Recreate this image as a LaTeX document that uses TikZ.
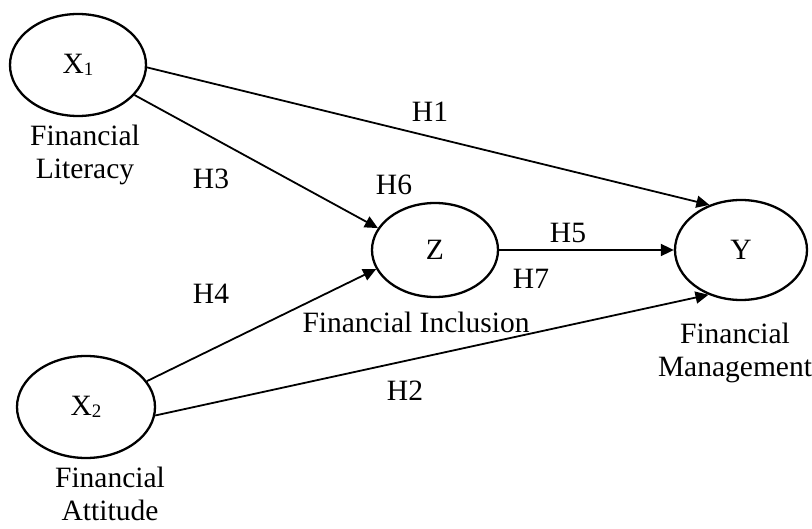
\documentclass[tikz,border=0pt]{standalone}
\usepackage{fontspec}
\setmainfont{Liberation Serif}
\usetikzlibrary{arrows.meta,shapes.geometric}
\newcommand{\smallsub}[1]{\raisebox{-1.5pt}{\fontsize{19}{19}\selectfont #1}}
\tikzset{
	latent/.style={draw, ellipse, line width=2.3pt, inner sep=0pt},
	path/.style={line width=1.8pt, -{Triangle[length=13pt,width=12pt]}},
	lbl/.style={align=center, font=\fontsize{29.5}{33}\selectfont}
}

\begin{document}
\begin{tikzpicture}[x=1pt, y=1pt]
		%%%%% START %%%%%
		\useasboundingbox (0, 0) rectangle (812, 528);
		
		\node[latent, minimum width=136, minimum height=102, lbl] (x1) at (78, 463) {X\smallsub{1}};
		\node[latent, minimum width=138, minimum height=102, lbl] (x2) at (86, 121) {X\smallsub{2}};
		\node[latent, minimum width=126, minimum height=94, lbl] (z) at (435, 278) {Z};
		\node[latent, minimum width=132, minimum height=100, lbl] (y) at (741, 278) {Y};
		
		\node[lbl] (litlbl) at (85, 373) {Financial\\Literacy};
		\node[lbl] (attlbl) at (110, 34) {Financial\\Attitude};
		\node[lbl] (inclbl) at (416, 206) {Financial Inclusion};
		\node[lbl] (manlbl) at (735, 175) {Financial\\Management};
		
		\draw[path] (x1.-2) -- (y.125);
		\draw[path] (x1.-28) -- (z.159);
		\draw[path] (x2.23) -- (z.198);
		\draw[path] (x2.-7) -- (y.234);
		\draw[path] (z.east) -- (y.west);
		
		\node[lbl] (h1) at (430, 416) {H1};
		\node[lbl] (h3) at (211, 349) {H3};
		\node[lbl] (h6) at (394, 343) {H6};
		\node[lbl] (h5) at (568, 295) {H5};
		\node[lbl] (h7) at (531, 249) {H7};
		\node[lbl] (h4) at (211, 234) {H4};
		\node[lbl] (h2) at (405, 137) {H2};
		%%%%% END %%%%%
	\end{tikzpicture}
\end{document}
